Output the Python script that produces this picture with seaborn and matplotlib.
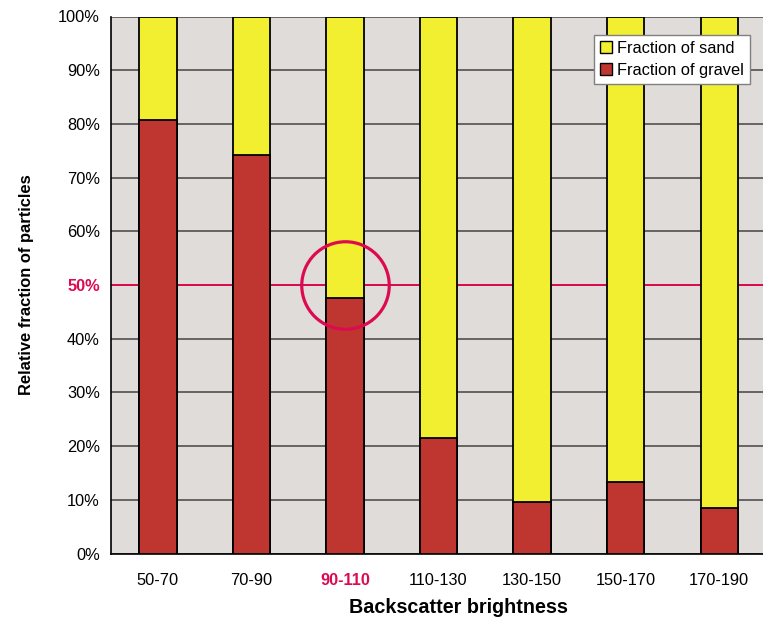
import matplotlib
matplotlib.use("Agg")
import matplotlib.pyplot as plt
from matplotlib.patches import Patch
import seaborn as sns
import pandas as pd

categories = ["50-70", "70-90", "90-110", "110-130", "130-150", "150-170", "170-190"]
gravel = [80.7, 74.3, 47.6, 21.5, 9.6, 13.3, 8.5]
sand = [19.3, 25.7, 52.4, 78.5, 90.4, 86.7, 91.5]
y_ticks = [0, 10, 20, 30, 40, 50, 60, 70, 80, 90, 100]

highlight_cat = "90-110"
highlight_level = 50

sns.set_theme(style="white")
plt.rcParams["font.family"] = ["Liberation Sans", "DejaVu Sans"]
plt.rcParams["text.color"] = "black"
plt.rcParams["axes.labelcolor"] = "black"
plt.rcParams["xtick.color"] = "black"
plt.rcParams["ytick.color"] = "black"

df = pd.DataFrame({"category": categories, "gravel": gravel, "sand": sand})
df["total"] = df["gravel"] + df["sand"]

fig = plt.figure(figsize=(7.63, 6.21), dpi=100)
ax = fig.add_axes([111 / 763, 67.5 / 621, 655 / 763, 537 / 621])
ax.set_facecolor("#e0dcd9")

yellow = "#f2ee30"
red = "#bf3530"
accent = "#dc0a50"
tick_fs = 11.8

# grid behind bars
for t in y_ticks:
    ax.axhline(t, color="#505050", lw=1.2, zorder=0.5)

sns.barplot(data=df, x="category", y="total", color=yellow, width=0.4,
            edgecolor="black", linewidth=1.3, saturation=1, ax=ax, zorder=2)
sns.barplot(data=df, x="category", y="gravel", color=red, width=0.4,
            edgecolor="black", linewidth=1.3, saturation=1, ax=ax, zorder=3)

ax.set_xlim(-0.5, len(categories) - 0.5)
ax.set_ylim(0, 100)

# 50% reference line and circle
ax.axhline(highlight_level, color=accent, lw=1.4, zorder=1)
hi = categories.index(highlight_cat)
ax.plot([hi], [highlight_level], marker="o", markersize=63, markerfacecolor="none",
        markeredgecolor=accent, markeredgewidth=2.3, zorder=5, clip_on=False)

# y axis
ax.set_yticks(y_ticks)
ax.set_yticklabels([f"{t}%" for t in y_ticks], fontsize=tick_fs)
for lab, t in zip(ax.get_yticklabels(), y_ticks):
    if t == highlight_level:
        lab.set_color(accent)
        lab.set_fontweight("bold")
ax.tick_params(axis="y", direction="out", length=5, width=1, color="black", pad=3)

# x axis: labels at centers, tick marks at category boundaries
ax.set_xticks(range(len(categories)))
ax.set_xticklabels(categories, fontsize=tick_fs)
ax.tick_params(axis="x", length=0, pad=14)
ax.set_xticks([i - 0.5 for i in range(len(categories) + 1)], minor=True)
ax.tick_params(axis="x", which="minor", direction="out", length=5, width=1, color="black")
for lab in ax.get_xticklabels():
    if lab.get_text() == highlight_cat:
        lab.set_color(accent)
        lab.set_fontweight("bold")

for s in ["top", "right"]:
    ax.spines[s].set_visible(False)
for s in ["left", "bottom"]:
    ax.spines[s].set_color("black")
    ax.spines[s].set_linewidth(1.2)

ax.set_xlabel("Backscatter brightness", fontsize=14.2, fontweight="bold", labelpad=7, x=0.53)
ax.set_ylabel("Relative fraction of particles", fontsize=11.9, fontweight="bold", labelpad=17)

handles = [Patch(facecolor=yellow, edgecolor="black", label="Fraction of sand"),
           Patch(facecolor=red, edgecolor="black", label="Fraction of gravel")]
leg = ax.legend(handles=handles, loc="upper right", bbox_to_anchor=(0.9756, 0.9655),
                fontsize=tick_fs, frameon=True, fancybox=False, framealpha=1,
                handlelength=0.75, handleheight=0.75, handletextpad=0.3,
                borderpad=0.35, labelspacing=0.45, borderaxespad=0)
leg.get_frame().set_edgecolor("#808080")
leg.get_frame().set_linewidth(1)
leg.set_zorder(10)

fig.savefig("out.png", dpi=100)
